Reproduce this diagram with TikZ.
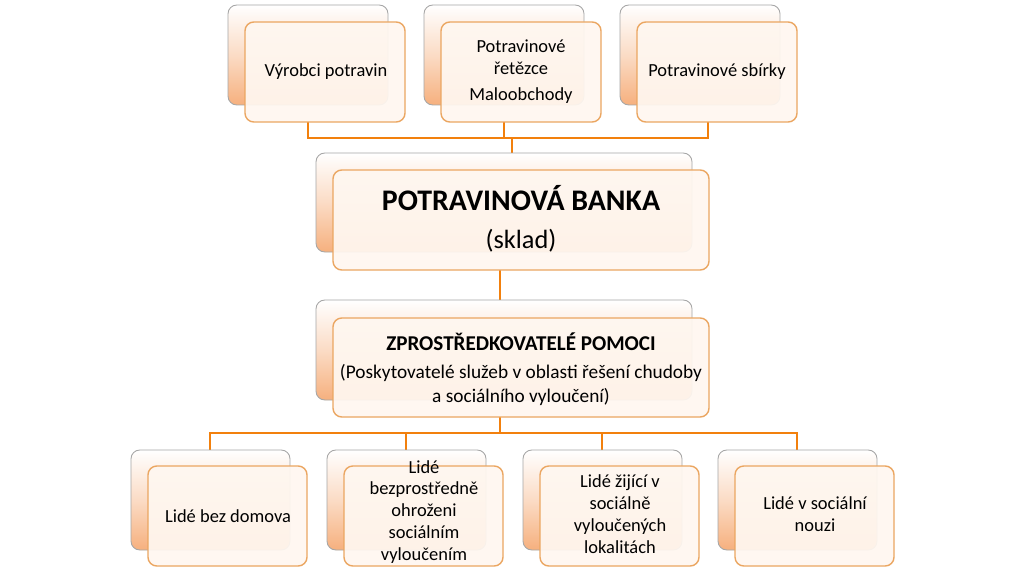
\documentclass[tikz,border=0pt]{standalone}
\usepackage{fontspec}
\setmainfont{Carlito}
\definecolor{peach}{HTML}{F6B07E}
\begin{document}
\begin{tikzpicture}[x=0.02cm,y=-0.02cm,
  back/.style={draw=gray!70,rounded corners=5pt,top color=white,bottom color=peach,middle color=peach!45!white,line width=0.5pt},
  front/.style={draw=orange!55!brown!70!white,rounded corners=5pt,fill=orange!6!white,fill opacity=0.93,line width=0.8pt},
  conn/.style={draw=orange!80!brown,line width=1.6pt},
  lbl/.style={font=\fontsize{10.5}{12.5}\selectfont,align=center}]
\useasboundingbox (0,0) rectangle (1024,581);
\fill[white] (0,0) rectangle (1024,581);
% connectors
\coordinate (h1) at (308,138); \coordinate (h2) at (708,138);
\draw[conn] (308,122) -- (h1) -- (h2) -- (708,122);
\draw[conn] (504,122) -- (504,138);
\draw[conn] (512,138) -- (512,153);
\draw[conn] (500,270) -- (500,300);
\draw[conn] (210,450) -- (210,433) -- (797,433) -- (797,450);
\draw[conn] (406,433) -- (406,450); \draw[conn] (602,433) -- (602,450);
\draw[conn] (500,417) -- (500,433);
% top row
\foreach \x in {228,424,620}{
  \draw[back] (\x,5) rectangle ++(160,100);
  \draw[front] (\x+17,22) rectangle ++(160,100);}
\node[lbl] (t1) at (326,72) {Výrobci potravin};
\node[lbl] (t2) at (521,57) {Potravinové\\řetězce};
\node[lbl] (t2b) at (521,96) {Maloobchody};
\node[lbl] (t3) at (717,72) {Potravinové sbírky};
% bank
\draw[back] (316,153) rectangle (692,252);
\draw[front] (333,170) rectangle (709,270);
\node[font=\fontsize{17}{20}\selectfont\bfseries] (bank) at (521,198) {POTRAVINOVÁ BANKA};
\node[font=\fontsize{15}{18}\selectfont] (sklad) at (521,241) {(sklad)};
% mediators
\draw[back] (316,300) rectangle (692,400);
\draw[front] (333,318) rectangle (709,417);
\node[font=\fontsize{12}{14}\selectfont\bfseries] (zp) at (521,342) {ZPROSTŘEDKOVATELÉ POMOCI};
\node[font=\fontsize{11}{14}\selectfont,align=center] (zp2) at (521,385) {(Poskytovatelé služeb v oblasti řešení chudoby\\a sociálního vyloučení)};
% bottom row
\foreach \x in {131,327,523,718}{
  \draw[back] (\x,450) rectangle ++(159,100);
  \draw[front] (\x+17,466) rectangle ++(159,100);}
\node[lbl] (b1) at (228,516) {Lidé bez domova};
\node[lbl] (b2) at (424,512) {Lidé\\bezprostředně\\ohroženi\\sociálním\\vyloučením};
\node[lbl] (b3) at (620,514) {Lidé žijící v\\sociálně\\vyloučených\\lokalitách};
\node[lbl] (b4) at (815,514) {Lidé v sociální\\nouzi};
\end{tikzpicture}
\end{document}
